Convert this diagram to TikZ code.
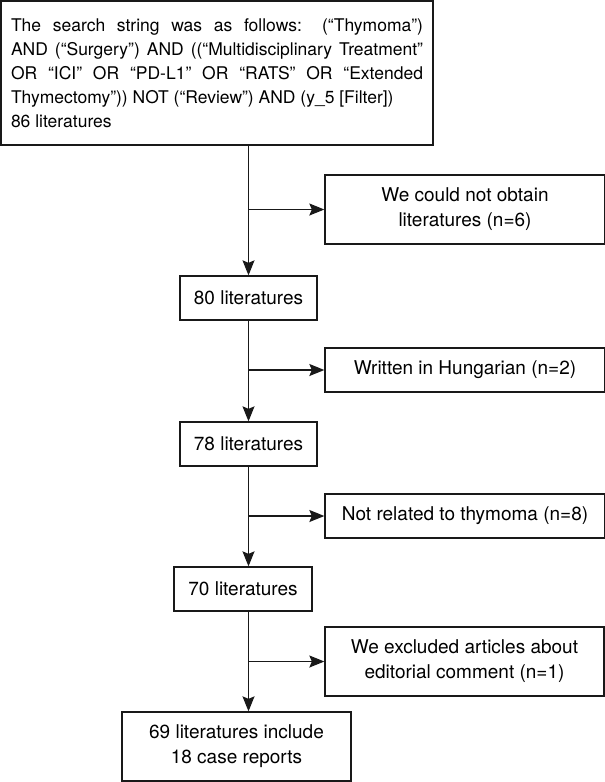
\documentclass[tikz,border=0pt]{standalone}
\usepackage{fontspec}
\setmainfont{TeX Gyre Heros}
\usetikzlibrary{arrows.meta}
\begin{document}
\begin{tikzpicture}[x=1pt,y=-1pt,
    box/.style={draw=black!90,line width=1.3pt,inner sep=0pt,align=center,
      font=\fontsize{19}{25}\selectfont},
    sidebox/.style={box,minimum width=280pt},
    arr/.style={draw=black!90,line width=1.3pt,-{Stealth[length=15pt,width=12pt,inset=2.5pt]}}]
  \useasboundingbox (0,0) rectangle (605,782);

  % main column
  \node[box,align=justify,text width=412pt,inner xsep=10pt,minimum height=144pt,
        font=\fontsize{17.5}{24}\selectfont] (search) at (217,73)
    {The search string was as follows: (“Thymoma”) \linebreak
     AND (“Surgery”) AND ((“Multidisciplinary Treatment” \linebreak
     OR “ICI” OR “PD-L1” OR “RATS” OR “Extended \linebreak
     Thymectomy”)) NOT (“Review”) AND (y\_5 [Filter])\\
     86 literatures};
  \node[box,minimum width=137pt,minimum height=44pt] (lit80) at (248.5,298) {80 literatures};
  \node[box,minimum width=137pt,minimum height=44pt] (lit78) at (248.5,444) {78 literatures};
  \node[box,minimum width=138pt,minimum height=44pt] (lit70) at (243,589) {70 literatures};
  \node[box,minimum width=229pt,minimum height=69pt] (final) at (236.5,746.5)
    {69 literatures include\\18 case reports};

  % excluded
  \node[sidebox,minimum height=69pt] (noobtain) at (465,209.5) {We could not obtain\\literatures (n=6)};
  \node[sidebox,minimum height=44pt] (hungarian) at (465,370) {Written in Hungarian (n=2)};
  \node[sidebox,minimum height=44pt] (notthy) at (465,516) {Not related to thymoma (n=8)};
  \node[sidebox,minimum width=279pt,minimum height=69pt] (editorial) at (464.5,661.5)
    {We excluded articles about\\editorial comment (n=1)};

  \draw[arr] (search.south -| lit80.north) -- (lit80.north);
  \draw[arr] (lit80.south) -- (lit78.north);
  \draw[arr] (lit78.south) -- (lit78.south |- lit70.north);
  \draw[arr] (lit70.south -| lit78.south) -- (lit78.south |- final.north);

  \draw[arr] (lit80.north |- noobtain.west) -- (noobtain.west);
  \draw[arr] (lit80.south |- hungarian.west) -- (hungarian.west);
  \draw[arr] (lit78.south |- notthy.west) -- (notthy.west);
  \draw[arr] (lit78.south |- editorial.west) -- (editorial.west);
\end{tikzpicture}
\end{document}
